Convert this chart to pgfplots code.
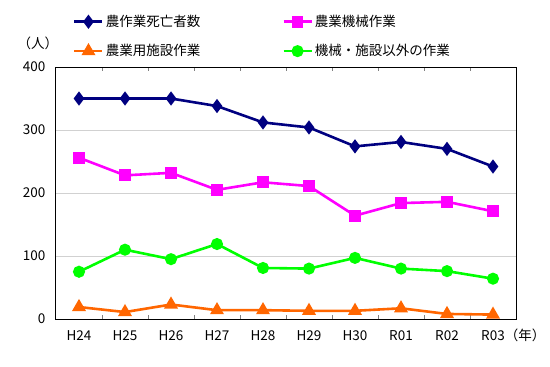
\documentclass[border=0pt]{standalone}
\usepackage{fontspec}
\setmainfont{Noto Sans CJK JP}
\usepackage{pgfplots}
\pgfplotsset{compat=1.18}
\definecolor{cnavy}{HTML}{000080}
\definecolor{cmag}{HTML}{FF00FF}
\definecolor{corange}{HTML}{FF6600}
\definecolor{cgreen}{HTML}{00FF00}
\begin{document}
\fontsize{13.5bp}{16bp}\selectfont
\begin{tikzpicture}
\begin{axis}[
  scale only axis, width=460bp, height=252bp,
  xmin=-0.5, xmax=9.5, ymin=0, ymax=400,
  clip=false,
  xtick={0,...,9},
  xticklabels={H24,H25,H26,H27,H28,H29,H30,R01,R02,R03\rlap{（年）}},
  minor xtick={0.5,1.5,...,8.5},
  minor tick length=4bp,
  minor x tick style={gray, line width=0.6bp},
  major x tick style={draw=none},
  ytick={0,100,200,300,400},
  major y tick style={draw=none},
  ymajorgrids, grid style={black!18, line width=0.8bp},
  axis line style={black, line width=1bp},
  tick label style={font=\fontsize{13.5bp}{16bp}\selectfont},
  /pgf/number format/assume math mode=true,
  yticklabel style={xshift=-6bp},
  xticklabel style={yshift=-6bp, text height=11bp, text depth=3bp},
  every axis plot/.append style={line width=2.6bp},
  legend columns=2,
  legend cell align=left,
  legend style={at={(axis description cs:0,1)}, anchor=south west,
    xshift=14bp, yshift=5bp, draw=none, fill=none,
    font=\fontsize{13.5bp}{16bp}\selectfont, row sep=12bp,
    /tikz/every even column/.append style={column sep=80bp}},
  legend image code/.code={\draw[mark repeat=2,mark phase=2] plot coordinates {(0bp,0bp)(14bp,0bp)(28bp,0bp)};},
]
\addplot[cnavy, mark=diamond*, mark size=5bp] coordinates {
(0,350)(1,350)(2,350)(3,338)(4,312)(5,304)(6,274)(7,281)(8,270)(9,242)};
\addlegendentry{農作業死亡者数}
\addplot[cmag, mark=square*, mark size=4.6bp] coordinates {
(0,256)(1,228)(2,232)(3,205)(4,217)(5,211)(6,164)(7,184)(8,186)(9,171)};
\addlegendentry{農業機械作業}
\addplot[corange, mark=triangle*, mark size=5.5bp] coordinates {
(0,19)(1,11)(2,23)(3,14)(4,14)(5,13)(6,13)(7,17)(8,8)(9,7)};
\addlegendentry{農業用施設作業}
\addplot[cgreen, mark=*, mark size=4.7bp] coordinates {
(0,75)(1,110)(2,95)(3,119)(4,81)(5,80)(6,97)(7,80)(8,76)(9,64)};
\addlegendentry{機械・施設以外の作業}
\coordinate (LL) at (rel axis cs:0,0);
\node at (rel axis cs:0,1) [xshift=-18bp, yshift=24bp] {（人）};
\end{axis}
\pgfresetboundingbox
\path[use as bounding box] (LL) ++(-56bp,-48bp) rectangle ++(550bp,367bp);
\end{tikzpicture}
\end{document}
